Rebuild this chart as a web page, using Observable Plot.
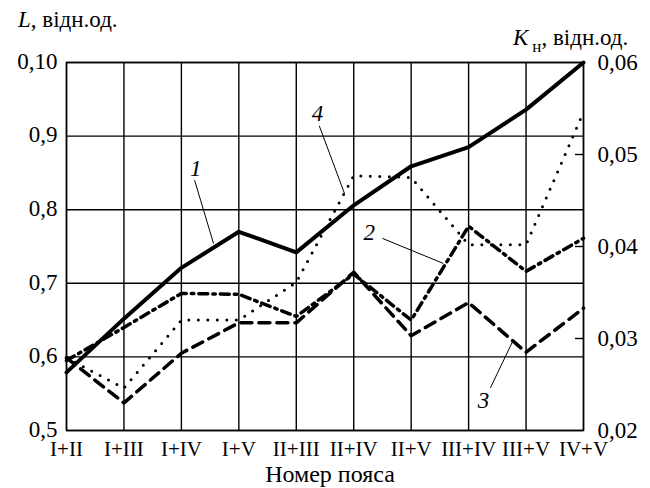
<!DOCTYPE html>
<html><head><meta charset="utf-8">
<script src="https://cdn.jsdelivr.net/npm/d3@7"></script>
<script src="https://cdn.jsdelivr.net/npm/@observablehq/plot@0.6"></script>
<style>
body{margin:0;background:#fff;}
#chart{width:650px;height:488px;}
#chart svg, #chart svg text, #chart svg tspan{font-family:"Liberation Serif","Times New Roman","DejaVu Serif",serif !important;}
</style></head><body><div id="chart"></div>
<script>
const categories = ["I+II","I+III","I+IV","I+V","II+III","II+IV","II+V","III+IV","III+V","IV+V"];
// curve 1 (solid) on the left axis L
const curve1L = [0.579,0.652,0.721,0.770,0.742,0.806,0.859,0.885,0.936,1.0];
// curves 2,3,4 on the right axis K_н
const curve2K = [0.0276,0.0312,0.0349,0.0348,0.0324,0.0370,0.0320,0.0422,0.0373,0.0409];
const curve3K = [0.0279,0.0230,0.0284,0.0317,0.0317,0.0372,0.0303,0.0339,0.0285,0.0333];
const curve4K = [0.0279,0.0246,0.0320,0.0320,0.0361,0.0477,0.0475,0.0402,0.0402,0.0546];
const leftTicks = [0.5,0.6,0.7,0.8,0.9,1.0];
const leftTickLabels = ["0,5","0,6","0,7","0,8","0,9","0,10"];
const rightTicks = [0.02,0.03,0.04,0.05,0.06];
const rightTickLabels = ["0,02","0,03","0,04","0,05","0,06"];
// curve number labels and leader lines (x in category index units, y in L units)
const curveLabels = ["1","2","3","4"];
const labelX = [2.25,5.27,7.26,4.37];
const labelY = [0.856,0.769,0.541,0.931];
const leadX1 = [2.23,5.50,7.38,4.40];
const leadY1 = [0.840,0.761,0.558,0.914];
const leadX2 = [2.56,6.56,7.76,4.84];
const leadY2 = [0.754,0.727,0.620,0.822];

const kToL = k => 0.5 + (k - 0.02) / 0.04 * 0.5;
const rightTicksL = rightTicks.map(kToL);
const idx = (d, i) => i;

const chart = Plot.plot({
  width: 650, height: 488,
  marginLeft: 66, marginRight: 67, marginTop: 62, marginBottom: 58,
  style: {fontFamily: "Liberation Serif, serif", fontSize: "23px", color: "#000", background: "#fff"},
  x: {type: "linear", domain: [0, 9]},
  y: {domain: [0.5, 1.0]},
  marks: [
    Plot.gridX(d3.range(categories.length), {stroke: "#000", strokeOpacity: 1, strokeWidth: 1.4}),
    Plot.gridY(leftTicks, {stroke: "#000", strokeOpacity: 1, strokeWidth: 1.4}),
    Plot.frame({stroke: "#000", strokeWidth: 1.5}),
    Plot.axisX(d3.range(categories.length), {tickFormat: i => categories[i], tickSize: 0, tickPadding: 11, label: null, fontSize: 21}),
    Plot.axisY(leftTicks, {tickFormat: d => leftTickLabels[leftTicks.indexOf(d)], tickSize: 0, tickPadding: 9, label: null, fontSize: 23, dy: -1}),
    Plot.axisY(rightTicksL, {anchor: "right", tickFormat: d => rightTickLabels[rightTicksL.indexOf(d)], tickSize: 0, tickPadding: 14, label: null, fontSize: 23}),
    Plot.tickY(rightTicksL.slice(1, -1), {y: d => d, stroke: "#000", strokeWidth: 1.4, insetLeft: 509}),
    Plot.line(curve4K, {x: idx, y: kToL, stroke: "#000", strokeWidth: 3, strokeLinecap: "round", strokeDasharray: "0,9.5"}),
    Plot.line(curve3K, {x: idx, y: kToL, stroke: "#000", strokeWidth: 3.5, strokeDasharray: "11,7"}),
    Plot.line(curve2K, {x: idx, y: kToL, stroke: "#000", strokeWidth: 3.5, strokeDasharray: "9,5,2.5,5"}),
    Plot.line(curve1L, {x: idx, y: d => d, stroke: "#000", strokeWidth: 4}),
    Plot.link(curveLabels, {x1: leadX1, y1: leadY1, x2: leadX2, y2: leadY2, stroke: "#000", strokeWidth: 1}),
    Plot.text(curveLabels, {x: labelX, y: labelY, text: d => d, fontStyle: "italic", fontSize: 23})
  ]
});
document.getElementById("chart").appendChild(chart);

const svg = d3.select(chart);
const t1 = svg.append("text").attr("x", 18).attr("y", 27).attr("text-anchor", "start")
  .attr("font-size", 23).attr("fill", "#000");
t1.append("tspan").attr("font-style", "italic").text("L");
t1.append("tspan").text(", відн.од.");
const t2 = svg.append("text").attr("x", 513).attr("y", 45).attr("text-anchor", "start")
  .attr("font-size", 23).attr("fill", "#000");
t2.append("tspan").attr("font-style", "italic").text("K");
t2.append("tspan").attr("font-size", 17).attr("dx", 4).attr("dy", 7).text("н");
t2.append("tspan").attr("dy", -7).text(", відн.од.");
svg.append("text").attr("x", 330).attr("y", 482).attr("text-anchor", "middle")
  .attr("font-size", 24).attr("fill", "#000")
  .text("Номер пояса");
</script></body></html>
